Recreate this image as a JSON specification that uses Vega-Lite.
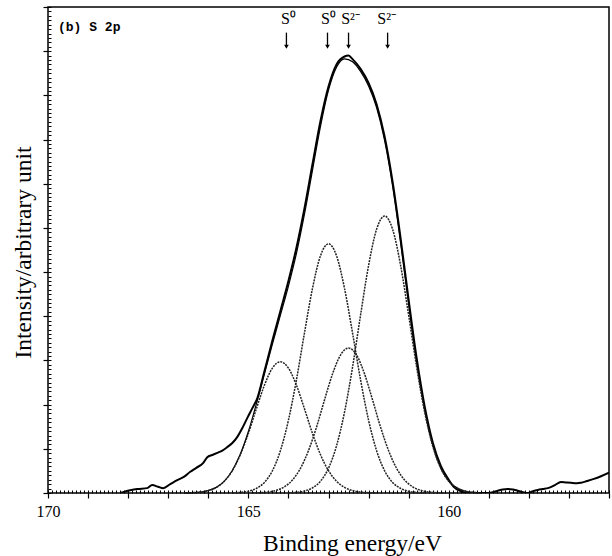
{
  "$schema": "https://vega.github.io/schema/vega-lite/v6.json",
  "width": 561,
  "height": 486,
  "autosize": {"type": "none"},
  "padding": {"left": 48, "top": 7, "right": 3, "bottom": 63},
  "background": "white",
  "config": {"view": {"stroke": "black", "strokeWidth": 1.5}},
  "datasets": {
    "spectrum": [
      {"s":"data","be":168.2,"v":0},{"s":"data","be":168.125,"v":0.02},{"s":"data","be":167.95,"v":0.06},{"s":"data","be":167.775,"v":0.09},{"s":"data","be":167.525,"v":0.11},{"s":"data","be":167.4,"v":0.18},{"s":"data","be":167.25,"v":0.14},{"s":"data","be":167.125,"v":0.11},{"s":"data","be":166.95,"v":0.2},{"s":"data","be":166.775,"v":0.29},{"s":"data","be":166.6,"v":0.37},{"s":"data","be":166.45,"v":0.48},{"s":"data","be":166.3,"v":0.57},{"s":"data","be":166.125,"v":0.68},{"s":"data","be":166.025,"v":0.81},{"s":"data","be":165.9,"v":0.86},{"s":"data","be":165.775,"v":0.91},{"s":"data","be":165.65,"v":0.96},{"s":"data","be":165.525,"v":1.04},{"s":"data","be":165.4,"v":1.13},{"s":"data","be":165.275,"v":1.27},{"s":"data","be":165.15,"v":1.47},{"s":"data","be":165.025,"v":1.7},{"s":"data","be":164.9,"v":1.92},{"s":"data","be":164.775,"v":2.15},{"s":"data","be":164.6,"v":2.75},{"s":"data","be":164.4,"v":3.45},{"s":"data","be":164.2,"v":4.12},{"s":"data","be":164.0,"v":4.8},{"s":"data","be":163.8,"v":5.55},{"s":"data","be":163.6,"v":6.44},{"s":"data","be":163.4,"v":7.44},{"s":"data","be":163.2,"v":8.42},{"s":"data","be":163.0,"v":9.2},{"s":"data","be":162.8,"v":9.7},{"s":"data","be":162.6,"v":9.88},{"s":"data","be":162.5,"v":9.9},{"s":"data","be":162.4,"v":9.82},{"s":"data","be":162.2,"v":9.6},{"s":"data","be":162.0,"v":9.28},{"s":"data","be":161.8,"v":8.8},{"s":"data","be":161.6,"v":8.07},{"s":"data","be":161.4,"v":7.04},{"s":"data","be":161.2,"v":5.76},{"s":"data","be":161.0,"v":4.37},{"s":"data","be":160.8,"v":3.05},{"s":"data","be":160.6,"v":1.96},{"s":"data","be":160.4,"v":1.15},{"s":"data","be":160.2,"v":0.62},{"s":"data","be":160.0,"v":0.3},{"s":"data","be":159.875,"v":0.14},{"s":"data","be":159.7,"v":0.04},{"s":"data","be":159.525,"v":0},{"s":"data","be":159.3,"v":0},{"s":"data","be":159.025,"v":0},{"s":"data","be":158.9,"v":0.02},{"s":"data","be":158.775,"v":0.05},{"s":"data","be":158.65,"v":0.08},{"s":"data","be":158.525,"v":0.09},{"s":"data","be":158.4,"v":0.08},{"s":"data","be":158.275,"v":0.05},{"s":"data","be":158.15,"v":0.02},{"s":"data","be":158.025,"v":0},{"s":"data","be":157.9,"v":0.04},{"s":"data","be":157.775,"v":0.07},{"s":"data","be":157.65,"v":0.09},{"s":"data","be":157.525,"v":0.11},{"s":"data","be":157.35,"v":0.18},{"s":"data","be":157.2,"v":0.25},{"s":"data","be":157.075,"v":0.24},{"s":"data","be":156.95,"v":0.23},{"s":"data","be":156.8,"v":0.22},{"s":"data","be":156.7,"v":0.23},{"s":"data","be":156.55,"v":0.27},{"s":"data","be":156.375,"v":0.32},{"s":"data","be":156.2,"v":0.38},{"s":"data","be":156.0,"v":0.46},
      {"s":"fit","be":166.6,"v":0.002},{"s":"fit","be":166.4,"v":0.008},{"s":"fit","be":166.2,"v":0.021},{"s":"fit","be":166.0,"v":0.055},{"s":"fit","be":165.8,"v":0.127},{"s":"fit","be":165.6,"v":0.268},{"s":"fit","be":165.4,"v":0.51},{"s":"fit","be":165.2,"v":0.881},{"s":"fit","be":165.0,"v":1.391},{"s":"fit","be":164.8,"v":2.016},{"s":"fit","be":164.6,"v":2.692},{"s":"fit","be":164.4,"v":3.37},{"s":"fit","be":164.2,"v":4.024},{"s":"fit","be":164.0,"v":4.684},{"s":"fit","be":163.8,"v":5.424},{"s":"fit","be":163.6,"v":6.311},{"s":"fit","be":163.4,"v":7.303},{"s":"fit","be":163.2,"v":8.297},{"s":"fit","be":163.0,"v":9.117},{"s":"fit","be":162.8,"v":9.637},{"s":"fit","be":162.6,"v":9.828},{"s":"fit","be":162.4,"v":9.763},{"s":"fit","be":162.2,"v":9.543},{"s":"fit","be":162.0,"v":9.214},{"s":"fit","be":161.8,"v":8.724},{"s":"fit","be":161.6,"v":7.983},{"s":"fit","be":161.4,"v":6.947},{"s":"fit","be":161.2,"v":5.661},{"s":"fit","be":161.0,"v":4.271},{"s":"fit","be":160.8,"v":2.954},{"s":"fit","be":160.6,"v":1.874},{"s":"fit","be":160.4,"v":1.08},{"s":"fit","be":160.2,"v":0.566},{"s":"fit","be":160.0,"v":0.268},{"s":"fit","be":159.8,"v":0.116},{"s":"fit","be":159.6,"v":0.045},{"s":"fit","be":159.4,"v":0.016},{"s":"fit","be":159.2,"v":0.005},
      {"s":"p1","be":166.6,"v":0.002},{"s":"p1","be":166.4,"v":0.008},{"s":"p1","be":166.2,"v":0.021},{"s":"p1","be":166.0,"v":0.055},{"s":"p1","be":165.8,"v":0.127},{"s":"p1","be":165.6,"v":0.266},{"s":"p1","be":165.4,"v":0.505},{"s":"p1","be":165.2,"v":0.867},{"s":"p1","be":165.0,"v":1.348},{"s":"p1","be":164.8,"v":1.907},{"s":"p1","be":164.6,"v":2.438},{"s":"p1","be":164.4,"v":2.827},{"s":"p1","be":164.2,"v":2.97},{"s":"p1","be":164.0,"v":2.827},{"s":"p1","be":163.8,"v":2.438},{"s":"p1","be":163.6,"v":1.907},{"s":"p1","be":163.4,"v":1.348},{"s":"p1","be":163.2,"v":0.867},{"s":"p1","be":163.0,"v":0.505},{"s":"p1","be":162.8,"v":0.266},{"s":"p1","be":162.6,"v":0.127},{"s":"p1","be":162.4,"v":0.055},{"s":"p1","be":162.2,"v":0.021},{"s":"p1","be":162.0,"v":0.008},{"s":"p1","be":161.8,"v":0.002},
      {"s":"p2","be":165.4,"v":0.005},{"s":"p2","be":165.2,"v":0.014},{"s":"p2","be":165.0,"v":0.041},{"s":"p2","be":164.8,"v":0.104},{"s":"p2","be":164.6,"v":0.24},{"s":"p2","be":164.4,"v":0.504},{"s":"p2","be":164.2,"v":0.959},{"s":"p2","be":164.0,"v":1.647},{"s":"p2","be":163.8,"v":2.561},{"s":"p2","be":163.6,"v":3.621},{"s":"p2","be":163.4,"v":4.63},{"s":"p2","be":163.2,"v":5.369},{"s":"p2","be":163.0,"v":5.64},{"s":"p2","be":162.8,"v":5.369},{"s":"p2","be":162.6,"v":4.63},{"s":"p2","be":162.4,"v":3.621},{"s":"p2","be":162.2,"v":2.561},{"s":"p2","be":162.0,"v":1.647},{"s":"p2","be":161.8,"v":0.959},{"s":"p2","be":161.6,"v":0.504},{"s":"p2","be":161.4,"v":0.24},{"s":"p2","be":161.2,"v":0.104},{"s":"p2","be":161.0,"v":0.041},{"s":"p2","be":160.8,"v":0.014},{"s":"p2","be":160.6,"v":0.005},
      {"s":"p3","be":164.9,"v":0.003},{"s":"p3","be":164.7,"v":0.008},{"s":"p3","be":164.5,"v":0.024},{"s":"p3","be":164.3,"v":0.061},{"s":"p3","be":164.1,"v":0.14},{"s":"p3","be":163.9,"v":0.293},{"s":"p3","be":163.7,"v":0.558},{"s":"p3","be":163.5,"v":0.958},{"s":"p3","be":163.3,"v":1.489},{"s":"p3","be":163.1,"v":2.106},{"s":"p3","be":162.9,"v":2.693},{"s":"p3","be":162.7,"v":3.123},{"s":"p3","be":162.5,"v":3.28},{"s":"p3","be":162.3,"v":3.123},{"s":"p3","be":162.1,"v":2.693},{"s":"p3","be":161.9,"v":2.106},{"s":"p3","be":161.7,"v":1.489},{"s":"p3","be":161.5,"v":0.958},{"s":"p3","be":161.3,"v":0.558},{"s":"p3","be":161.1,"v":0.293},{"s":"p3","be":160.9,"v":0.14},{"s":"p3","be":160.7,"v":0.061},{"s":"p3","be":160.5,"v":0.024},{"s":"p3","be":160.3,"v":0.008},{"s":"p3","be":160.1,"v":0.003},
      {"s":"p4","be":164.0,"v":0.005},{"s":"p4","be":163.8,"v":0.016},{"s":"p4","be":163.6,"v":0.045},{"s":"p4","be":163.4,"v":0.116},{"s":"p4","be":163.2,"v":0.267},{"s":"p4","be":163.0,"v":0.561},{"s":"p4","be":162.8,"v":1.066},{"s":"p4","be":162.6,"v":1.831},{"s":"p4","be":162.4,"v":2.847},{"s":"p4","be":162.2,"v":4.025},{"s":"p4","be":162.0,"v":5.148},{"s":"p4","be":161.8,"v":5.969},{"s":"p4","be":161.6,"v":6.27},{"s":"p4","be":161.4,"v":5.969},{"s":"p4","be":161.2,"v":5.148},{"s":"p4","be":161.0,"v":4.025},{"s":"p4","be":160.8,"v":2.847},{"s":"p4","be":160.6,"v":1.831},{"s":"p4","be":160.4,"v":1.066},{"s":"p4","be":160.2,"v":0.561},{"s":"p4","be":160.0,"v":0.267},{"s":"p4","be":159.8,"v":0.116},{"s":"p4","be":159.6,"v":0.045},{"s":"p4","be":159.4,"v":0.016},{"s":"p4","be":159.2,"v":0.005}
    ],
    "labels": [
      {"t":"S⁰","be":164.0,"v":10.73},
      {"t":"S⁰","be":163.0,"v":10.73},
      {"t":"S²⁻","be":162.45,"v":10.73},
      {"t":"S²⁻","be":161.55,"v":10.73}
    ],
    "arrows": [
      {"be":164.05,"v1":10.42,"v2":10.1},
      {"be":163.025,"v1":10.42,"v2":10.1},
      {"be":162.5,"v1":10.42,"v2":10.1},
      {"be":161.525,"v1":10.42,"v2":10.1}
    ],
    "panel": [{"t":"(b) S 2p","be":169.75,"v":10.55}]
  },
  "resolve": {"axis": {"x": "independent", "y": "independent"}},
  "layer": [
    {
      "data": {"name": "spectrum"},
      "transform": [{"filter": "datum.s === 'data'"}],
      "mark": {"type": "line", "interpolate": "monotone", "color": "black", "strokeWidth": 2, "clip": true},
      "encoding": {
        "x": {"field": "be", "type": "quantitative",
          "scale": {"domain": [156, 170], "reverse": true, "nice": false, "zero": false},
          "axis": {"orient": "bottom", "values": [156,157,158,159,160,161,162,163,164,165,166,167,168,169,170],
            "labelExpr": "datum.value % 5 === 0 ? datum.label : ''", "format": "d",
            "labelFont": "Liberation Serif", "labelFontSize": 16, "labelColor": "black", "labelPadding": 5, "labelFlush": false, "labelOverlap": false,
            "tickSize": 5, "tickColor": "black", "tickWidth": 1.2, "domain": false, "grid": false,
            "title": "Binding energy/eV", "titleFont": "Liberation Serif", "titleFontSize": 23.5, "titleFontWeight": "normal", "titleColor": "black",
            "titleX": 304, "titleY": 57, "titleAlign": "center", "titleBaseline": "alphabetic"}},
        "y": {"field": "v", "type": "quantitative",
          "scale": {"domain": [0, 11], "nice": false, "zero": false},
          "axis": {"orient": "left", "values": [0,1,2,3,4,5,6,7,8,9,10,11], "labels": false,
            "tickSize": 5, "tickColor": "black", "tickWidth": 1.2, "domain": false, "grid": false,
            "title": "Intensity/arbitrary unit", "titleFont": "Liberation Serif", "titleFontSize": 23.5, "titleFontWeight": "normal", "titleColor": "black",
            "titleX": -25, "titleY": 245, "titleAngle": 270, "titleAlign": "center", "titleBaseline": "middle"}}
      }
    },
    {
      "data": {"name": "spectrum"},
      "transform": [{"filter": "datum.s === 'fit'"}],
      "mark": {"type": "line", "interpolate": "monotone", "color": "black", "strokeWidth": 1.2},
      "encoding": {
        "x": {"field": "be", "type": "quantitative",
          "axis": {"orient": "bottom", "values": [156,156.1,156.2,156.3,156.4,156.5,156.6,156.7,156.8,156.9,157,157.1,157.2,157.3,157.4,157.5,157.6,157.7,157.8,157.9,158,158.1,158.2,158.3,158.4,158.5,158.6,158.7,158.8,158.9,159,159.1,159.2,159.3,159.4,159.5,159.6,159.7,159.8,159.9,160,160.1,160.2,160.3,160.4,160.5,160.6,160.7,160.8,160.9,161,161.1,161.2,161.3,161.4,161.5,161.6,161.7,161.8,161.9,162,162.1,162.2,162.3,162.4,162.5,162.6,162.7,162.8,162.9,163,163.1,163.2,163.3,163.4,163.5,163.6,163.7,163.8,163.9,164,164.1,164.2,164.3,164.4,164.5,164.6,164.7,164.8,164.9,165,165.1,165.2,165.3,165.4,165.5,165.6,165.7,165.8,165.9,166,166.1,166.2,166.3,166.4,166.5,166.6,166.7,166.8,166.9,167,167.1,167.2,167.3,167.4,167.5,167.6,167.7,167.8,167.9,168,168.1,168.2,168.3,168.4,168.5,168.6,168.7,168.8,168.9,169,169.1,169.2,169.3,169.4,169.5,169.6,169.7,169.8,169.9,170],
            "labels": false, "tickSize": -3, "tickColor": "black", "tickWidth": 1, "domain": false, "grid": false, "title": null}},
        "y": {"field": "v", "type": "quantitative",
          "axis": {"orient": "left", "values": [0,0.1,0.2,0.3,0.4,0.5,0.6,0.7,0.8,0.9,1,1.1,1.2,1.3,1.4,1.5,1.6,1.7,1.8,1.9,2,2.1,2.2,2.3,2.4,2.5,2.6,2.7,2.8,2.9,3,3.1,3.2,3.3,3.4,3.5,3.6,3.7,3.8,3.9,4,4.1,4.2,4.3,4.4,4.5,4.6,4.7,4.8,4.9,5,5.1,5.2,5.3,5.4,5.5,5.6,5.7,5.8,5.9,6,6.1,6.2,6.3,6.4,6.5,6.6,6.7,6.8,6.9,7,7.1,7.2,7.3,7.4,7.5,7.6,7.7,7.8,7.9,8,8.1,8.2,8.3,8.4,8.5,8.6,8.7,8.8,8.9,9,9.1,9.2,9.3,9.4,9.5,9.6,9.7,9.8,9.9,10,10.1,10.2,10.3,10.4,10.5,10.6,10.7,10.8,10.9,11],
            "labels": false, "tickSize": -3, "tickColor": "black", "tickWidth": 1, "domain": false, "grid": false, "title": null}}
      }
    },
    {
      "data": {"name": "spectrum"},
      "transform": [{"filter": "datum.s === 'p1' || datum.s === 'p2' || datum.s === 'p3' || datum.s === 'p4'"}],
      "mark": {"type": "line", "interpolate": "monotone", "color": "#222222", "strokeWidth": 1.5, "strokeDash": [2, 1]},
      "encoding": {
        "x": {"field": "be", "type": "quantitative", "axis": null},
        "y": {"field": "v", "type": "quantitative", "axis": null},
        "detail": {"field": "s"}
      }
    },
    {
      "data": {"name": "arrows"},
      "mark": {"type": "rule", "color": "black", "strokeWidth": 1.3},
      "encoding": {
        "x": {"field": "be", "type": "quantitative", "axis": null},
        "y": {"field": "v1", "type": "quantitative", "axis": null},
        "y2": {"field": "v2"}
      }
    },
    {
      "data": {"name": "arrows"},
      "mark": {"type": "point", "shape": "triangle-down", "filled": true, "color": "black", "size": 22, "opacity": 1},
      "encoding": {
        "x": {"field": "be", "type": "quantitative", "axis": null},
        "y": {"field": "v2", "type": "quantitative", "axis": null}
      }
    },
    {
      "data": {"name": "labels"},
      "mark": {"type": "text", "font": "Liberation Serif", "fontSize": 16, "color": "black", "align": "center", "baseline": "middle"},
      "encoding": {
        "x": {"field": "be", "type": "quantitative", "axis": null},
        "y": {"field": "v", "type": "quantitative", "axis": null},
        "text": {"field": "t"}
      }
    },
    {
      "data": {"name": "panel"},
      "mark": {"type": "text", "font": "Liberation Mono", "fontSize": 13, "fontWeight": "bold", "color": "black", "align": "left", "baseline": "middle"},
      "encoding": {
        "x": {"field": "be", "type": "quantitative", "axis": null},
        "y": {"field": "v", "type": "quantitative", "axis": null},
        "text": {"field": "t"}
      }
    }
  ]
}
